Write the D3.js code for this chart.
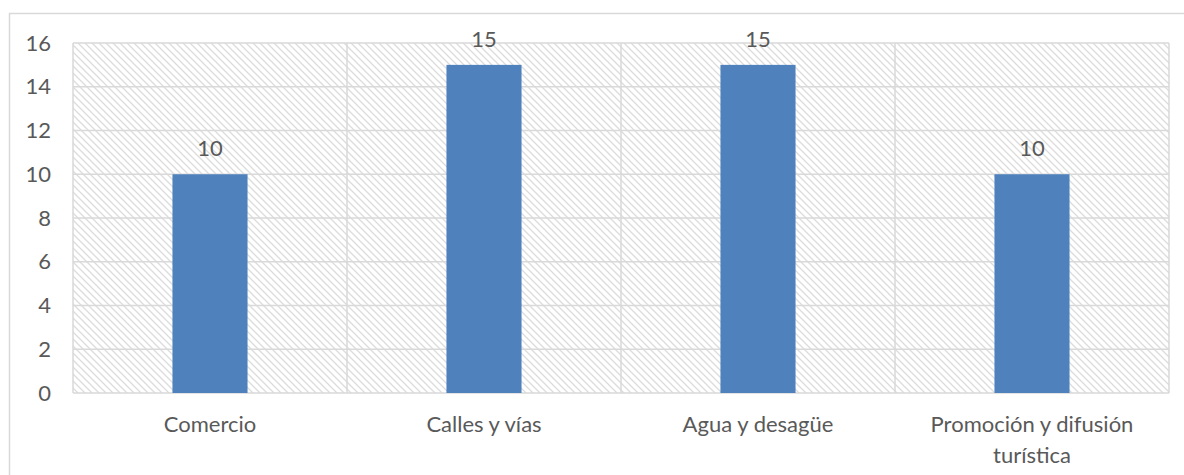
<!DOCTYPE html>
<html><head><meta charset="utf-8">
<script src="https://cdn.jsdelivr.net/npm/d3@7/dist/d3.min.js"></script>
<style>
html,body{margin:0;padding:0;background:#fff;}
svg{display:block;}
text{font-family:Lato,"Open Sans",sans-serif;fill:#595959;}
</style></head>
<body>
<script>
const categories = ["Comercio", "Calles y vías", "Agua y desagüe", "Promoción y difusión turística"];
const values = [10, 15, 15, 10];
const yTicks = [0, 2, 4, 6, 8, 10, 12, 14, 16];

const W = 1184, H = 475;
const FS = 22;
const margin = {left: 73, top: 43, right: 15, bottom: 82};
const svg = d3.select("body").append("svg").attr("width", W).attr("height", H);

// outer chart border (clipped at right/bottom)
svg.append("rect").attr("x", 9.5).attr("y", 13.5).attr("width", W + 10).attr("height", H + 10)
  .attr("fill", "#fff").attr("stroke", "#d9d9d9").attr("stroke-width", 1.5);

const defs = svg.append("defs");
const P = 7;
const pat = defs.append("pattern").attr("id", "hatch").attr("patternUnits", "userSpaceOnUse")
  .attr("width", P).attr("height", P);
pat.append("rect").attr("width", P).attr("height", P).attr("fill", "#fff");
pat.append("path").attr("d", `M-1,-1 L${P+1},${P+1} M-1,${P-1} L1,${P+1} M${P-1},-1 L${P+1},1`)
  .attr("stroke", "#dcdcdc").attr("stroke-width", 1.3);

const x = d3.scaleBand().domain(categories).range([margin.left, W - margin.right]).paddingInner(0).paddingOuter(0);
const y = d3.scaleLinear().domain([0, 16]).range([H - margin.bottom, margin.top]);

// plot area
svg.append("rect").attr("x", margin.left).attr("y", margin.top)
  .attr("width", x.range()[1] - margin.left).attr("height", y(0) - margin.top)
  .attr("fill", "url(#hatch)");

// horizontal grid
svg.append("g").selectAll("line").data(yTicks).join("line")
  .attr("x1", margin.left).attr("x2", x.range()[1])
  .attr("y1", d => y(d)).attr("y2", d => y(d))
  .attr("stroke", "#d9d9d9").attr("stroke-width", 1.5);

// vertical grid (category boundaries)
const bounds = categories.map(c => x(c)).concat([x.range()[1]]);
svg.append("g").selectAll("line").data(bounds).join("line")
  .attr("x1", d => d).attr("x2", d => d)
  .attr("y1", y(16)).attr("y2", y(0))
  .attr("stroke", "#d9d9d9").attr("stroke-width", 1.5);

// y axis labels
const yAxis = d3.axisLeft(y).tickValues(yTicks).tickSize(0).tickPadding(0).tickFormat(d3.format("d"));
const ya = svg.append("g").attr("transform", `translate(${margin.left - 22},0)`).call(yAxis);
ya.select(".domain").remove();
ya.selectAll("text").attr("font-size", FS).attr("font-family", "Lato").attr("fill", "#595959");

// bars
const bw = x.bandwidth() * 0.274;
svg.append("g").selectAll("rect").data(values).join("rect")
  .attr("x", (d, i) => x(categories[i]) + x.bandwidth() / 2 - bw / 2)
  .attr("y", d => y(d)).attr("width", bw).attr("height", d => y(0) - y(d))
  .attr("fill", "#4f81bd");

// data labels
svg.append("g").selectAll("text").data(values).join("text")
  .attr("x", (d, i) => x(categories[i]) + x.bandwidth() / 2)
  .attr("y", d => y(d) - 26).attr("dy", "0.35em")
  .attr("text-anchor", "middle").attr("font-size", FS).text(d => d);

// category labels
const catLines = {"Promoción y difusión turística": ["Promoción y difusión", "turística"]};
const cg = svg.append("g");
categories.forEach(c => {
  const lines = catLines[c] || [c];
  const t = cg.append("text").attr("text-anchor", "middle").attr("font-size", FS);
  lines.forEach((l, i) => {
    t.append("tspan").attr("x", x(c) + x.bandwidth() / 2).attr("y", 424 + i * 31).attr("dy", "0.35em").text(l);
  });
});
</script>
</body></html>
